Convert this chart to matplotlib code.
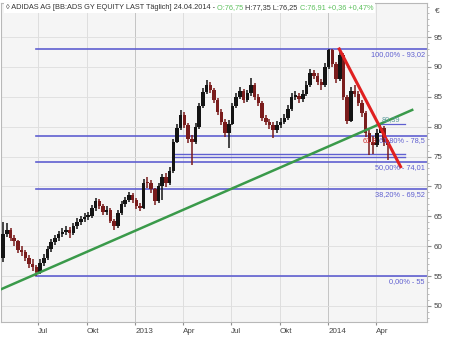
import numpy as np
import pandas as pd
import matplotlib
matplotlib.use('Agg')
import matplotlib.pyplot as plt
from matplotlib.ticker import MultipleLocator

plt.rcParams['font.family'] = ['Liberation Sans', 'DejaVu Sans']

# weekly bars, last one is 24.04.2014
closes = [62.0, 62.7, 61.3, 60.8, 59.4, 59.0, 58.0, 57.0, 56.5, 55.6,
          57.2, 58.0, 59.5, 60.7, 61.3, 62.0, 62.4, 62.7, 62.2, 63.3,
          64.1, 64.5, 64.9, 65.0, 66.3, 67.5, 66.8, 65.7, 66.1, 64.2,
          63.3, 65.6, 67.0, 67.8, 68.5, 67.8, 66.8, 66.4, 70.6, 70.5,
          69.5, 67.5, 70.0, 71.5, 70.5, 72.5, 77.5, 79.8, 82.0, 80.3,
          78.0, 77.5, 80.0, 83.5, 85.8, 87.0, 86.2, 84.5, 82.5, 80.8,
          79.0, 80.5, 83.5, 85.0, 86.0, 84.5, 85.6, 87.0, 85.0, 84.0,
          81.5, 80.8, 80.3, 79.4, 80.3, 80.8, 81.5, 83.0, 85.0, 85.2,
          84.6, 85.5, 87.0, 89.0, 88.5, 87.5, 87.0, 90.0, 92.8, 90.5,
          88.0, 92.0, 85.0, 81.0, 86.0, 85.5, 84.0, 82.3, 79.0, 77.5,
          77.0, 79.0, 79.8, 77.5, 76.91]
highs = [64.0, 63.9, 63.0, 61.8, 61.0, 60.0, 59.4, 58.5, 57.8, 56.8,
         57.8, 58.6, 60.0, 61.2, 61.9, 62.6, 63.0, 63.3, 63.2, 63.8,
         64.7, 65.1, 65.5, 65.7, 66.9, 68.0, 67.9, 67.1, 66.7, 66.4,
         64.6, 66.0, 67.5, 68.3, 69.0, 68.9, 68.1, 67.3, 71.2, 71.6,
         71.0, 69.8, 70.5, 72.0, 72.2, 73.2, 78.0, 80.4, 82.8, 82.4,
         80.6, 78.6, 80.6, 84.0, 86.4, 87.8, 87.5, 86.5, 84.8, 82.9,
         81.2, 81.1, 84.0, 85.6, 86.6, 86.3, 86.2, 88.1, 87.3, 85.5,
         84.3, 82.0, 81.3, 80.8, 80.9, 81.4, 82.1, 83.6, 85.6, 85.9,
         85.7, 86.2, 87.6, 89.6, 89.5, 88.9, 88.0, 90.6, 93.02, 93.0,
         90.8, 92.9, 92.4, 85.3, 86.6, 86.9, 86.0, 84.4, 82.6, 79.4,
         78.5, 79.6, 80.39, 80.1, 77.8]
lows = [57.3, 61.5, 60.8, 60.0, 58.8, 58.3, 57.5, 56.3, 55.8, 55.0,
        55.4, 56.7, 57.6, 59.0, 60.2, 60.9, 61.5, 61.9, 61.4, 61.8,
        62.9, 63.6, 64.0, 64.3, 64.7, 65.9, 66.2, 65.2, 65.2, 63.8,
        62.7, 63.0, 65.2, 66.6, 67.4, 67.3, 66.2, 65.8, 66.2, 69.8,
        68.9, 66.9, 67.2, 67.7, 69.9, 70.2, 72.3, 77.2, 79.4, 79.7,
        77.3, 73.6, 77.1, 79.6, 83.1, 85.4, 85.6, 83.9, 81.9, 80.2,
        78.2, 76.4, 80.2, 83.1, 84.6, 84.0, 84.1, 85.2, 84.5, 83.4,
        80.9, 80.2, 79.6, 78.1, 78.9, 79.8, 80.4, 81.1, 82.7, 84.4,
        84.0, 84.2, 85.1, 86.7, 87.9, 86.9, 86.2, 86.7, 89.6, 90.0,
        87.3, 87.7, 84.5, 80.4, 80.8, 84.9, 83.4, 81.7, 78.3, 75.3,
        75.5, 76.6, 79.0, 76.8, 74.4]
first_open = 58.0

fib_labels = ['0,00%', '38,20%', '50,00%', '61,80%', '100,00%']
fib_values = [55.0, 69.52, 74.01, 78.5, 93.02]
fib_start = '2012-06-28'

green_dates = ['2012-04-20', '2014-06-09']
green_values = [52.7, 82.8]
red_dates = ['2014-01-22', '2014-05-18']
red_values = [93.0, 73.3]
box_dates = ['2013-03-15', '2014-05-27']
box_values = [74.95, 75.45]
mark_dates = ['2014-04-01', '2014-05-27']
mark_value = 80.39

tick_dates = ['2012-07-01', '2012-10-01', '2013-01-01', '2013-04-01',
              '2013-07-01', '2013-10-01', '2014-01-01', '2014-04-01']
tick_labels = ['Jul', 'Okt', '2013', 'Apr', 'Jul', 'Okt', '2014', 'Apr']

dates = pd.date_range(end='2014-04-24', periods=len(closes), freq='7D')
c = np.array(closes)
o = np.array([first_open] + closes[:-1])
up = c >= o
colors = np.where(up, '#141414', '#7a1c1c')

fig = plt.figure(figsize=(4.5, 3.37), dpi=100)
ax = fig.add_axes([1 / 450, 15 / 337, 426 / 450, 319 / 337])
ax.set_facecolor('#f5f5f5')

# grid
for d in tick_dates:
    col = '#c4c4c4' if d.endswith('01-01') else '#dedede'
    ax.axvline(pd.Timestamp(d), color=col, lw=0.7, zorder=0)
for v in range(50, 100, 5):
    ax.axhline(v, color='#dedede', lw=0.6, zorder=0)

# candles
ax.vlines(dates, lows, highs, color=colors, lw=1.1, zorder=3)
body = np.maximum(np.abs(c - o), 0.3)
ax.bar(dates, body, bottom=np.minimum(o, c), width=6.5, color=colors, zorder=3)

# fibonacci levels
blue = '#5f5fd0'
ytr = ax.get_yaxis_transform()
for lab, v in zip(fib_labels, fib_values):
    ax.plot([pd.Timestamp(fib_start), pd.Timestamp('2014-07-10')], [v, v],
            color=blue, lw=1.2, zorder=2)
    val = ('%g' % v).replace('.', ',')
    ax.text(0.995, v - 0.3, lab + ' - ' + val, transform=ytr, ha='right', va='top',
            fontsize=5.3, color=blue, zorder=5)

# support box and marker
bd = pd.to_datetime(box_dates)
for v in box_values:
    ax.plot(bd, [v, v], color=blue, lw=1.0, zorder=2)
md = pd.to_datetime(mark_dates)
ax.plot(md, [mark_value, mark_value], color=blue, lw=0.9, zorder=2)
ax.text(md[0] + pd.Timedelta(days=12), mark_value + 0.2,
        ('%g' % mark_value).replace('.', ','),
        fontsize=5.3, color='#5a9a9a', va='bottom', zorder=5)
ax.text(0.883, 78.5 - 0.3, '61,8', transform=ytr, fontsize=5.3,
        color='#d03030', ha='right', va='top', zorder=6)

# trend lines
ax.plot(pd.to_datetime(green_dates), green_values, color='#3a9a4a', lw=1.8, zorder=4)
ax.plot(pd.to_datetime(red_dates), red_values, color='#e02020', lw=2.2, zorder=4)

ax.set_xlim(pd.Timestamp('2012-04-22'), pd.Timestamp('2014-07-07'))
ax.set_ylim(47.3, 100.7)

ax.yaxis.tick_right()
ax.yaxis.set_minor_locator(MultipleLocator(1))
ax.set_yticks(range(50, 100, 5))
ax.tick_params(axis='y', which='major', length=3, color='#909090', labelsize=5.8,
               labelcolor='#444444', pad=2)
ax.tick_params(axis='y', which='minor', length=1.5, color='#b0b0b0')

ax.set_xticks(pd.to_datetime(tick_dates))
ax.set_xticklabels(tick_labels)
for lbl in ax.get_xticklabels():
    lbl.set_horizontalalignment('left')
ax.tick_params(axis='x', length=2, color='#909090', labelsize=5.8,
               labelcolor='#444444', pad=2)

for s in ax.spines.values():
    s.set_color('#b8b8b8')
    s.set_linewidth(0.8)

ax.text(1.018, 0.985, '€', transform=ax.transAxes, fontsize=6, color='#444444',
        ha='left', va='top')

# title in pieces (grey / green)
parts = [('◊ ADIDAS AG [BB:ADS GY EQUITY LAST Täglich] 24.04.2014 - ', '#333333'),
         ('O:76,75 ', '#5cc05c'),
         ('H:77,35 L:76,25 ', '#333333'),
         ('C:76,91 +0,36 +0,47%', '#5cc05c')]
prev = ax.text(0.012, 0.996, parts[0][0], transform=ax.transAxes, fontsize=5.3,
               color=parts[0][1], va='top', ha='left', zorder=10,
               bbox=dict(fc='white', ec='none', pad=1.2))
for s, col in parts[1:]:
    prev = ax.annotate(s, xy=(1, 0), xycoords=prev, fontsize=5.3, color=col,
                       va='bottom', ha='left', zorder=10,
                       bbox=dict(fc='white', ec='none', pad=1.2))

fig.savefig('out.png', dpi=100)
